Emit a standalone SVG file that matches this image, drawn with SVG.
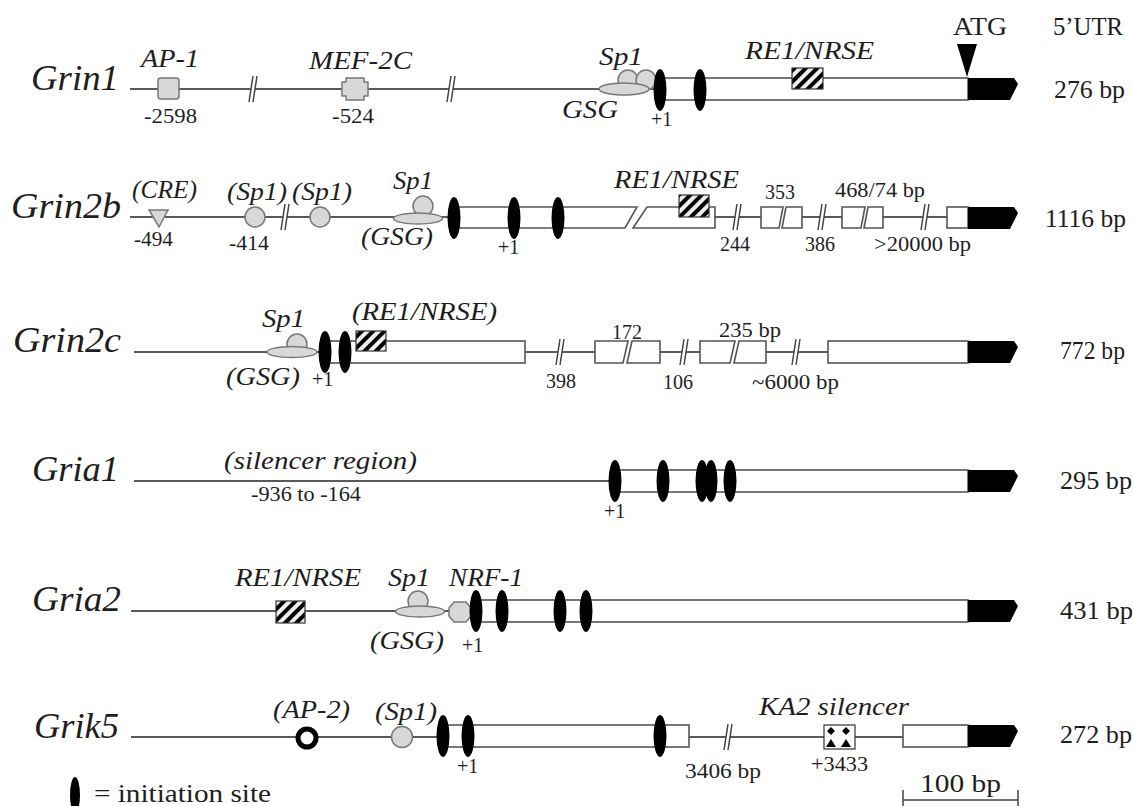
<svg xmlns="http://www.w3.org/2000/svg" xmlns:xlink="http://www.w3.org/1999/xlink" width="1133" height="806" viewBox="0 0 1133 806">
<style>
text{font-family:"Liberation Serif","Times New Roman",serif;fill:#1e1e1e}
.gene{font-size:36px;font-style:italic}
.lab{font-size:26px;font-style:italic}
.num{font-size:20px}
.bp{font-size:25px}
.intron{stroke:#5a5a5a;stroke-width:2;fill:none}
.exon{fill:#fff;stroke:#555;stroke-width:1.6}
.init{fill:#000}
.tf{fill:#d8d8d8;stroke:#777;stroke-width:1.5}
.hatch{fill:url(#hatch);stroke:#333;stroke-width:1.2}
.cds{fill:#000}
</style>
<defs>
<pattern id="hatch" width="8" height="8" patternUnits="userSpaceOnUse" patternTransform="rotate(45)">
<rect width="8" height="8" fill="#eee"/>
<rect width="4" height="8" fill="#000"/>
</pattern>
<g id="brk">
<polygon points="-4,13 0,-13 4,-13 0,13" fill="#fff"/>
<line x1="-4" y1="13" x2="0" y2="-13" stroke="#444" stroke-width="1.5"/>
<line x1="0" y1="13" x2="4" y2="-13" stroke="#444" stroke-width="1.5"/>
</g>
<path id="cdsEnd" d="M0,0 H46 L50,6 L42,22 H0 Z"/>
</defs>

<g id="header">
<text class="bp" x="953" y="35" textLength="54" lengthAdjust="spacingAndGlyphs">ATG</text>
<text class="bp" x="1053" y="35" textLength="70" lengthAdjust="spacingAndGlyphs">5’UTR</text>
</g>

<g id="grin1">
<text class="gene" x="31" y="90" textLength="88" lengthAdjust="spacingAndGlyphs">Grin1</text>
<g class="connectors">
<path class="intron" d="M130,89 H660"/>
<use xlink:href="#brk" x="253" y="89"/>
<use xlink:href="#brk" x="451" y="89"/>
</g>
<rect class="tf" x="158" y="78" width="21" height="21" rx="3"/>
<text class="lab" x="141" y="67" textLength="58" lengthAdjust="spacingAndGlyphs">AP-1</text>
<text class="num" x="144" y="123" textLength="53" lengthAdjust="spacingAndGlyphs">-2598</text>
<path class="tf" d="M346,78 h18 v4 h4 v14 h-4 v4 h-18 v-4 h-4 v-14 h4 z" stroke-linejoin="round"/>
<text class="lab" x="309" y="69" textLength="103" lengthAdjust="spacingAndGlyphs">MEF-2C</text>
<text class="num" x="332" y="123" textLength="42" lengthAdjust="spacingAndGlyphs">-524</text>
<circle class="tf" cx="628" cy="80" r="10"/>
<circle class="tf" cx="646" cy="80" r="10"/>
<ellipse class="tf" cx="624" cy="89" rx="25" ry="6"/>
<text class="lab" x="599" y="65" textLength="44" lengthAdjust="spacingAndGlyphs">Sp1</text>
<text class="lab" x="562" y="118" textLength="56" lengthAdjust="spacingAndGlyphs">GSG</text>
<rect class="exon" x="660" y="78" width="308" height="22"/>
<rect class="hatch" x="792" y="68" width="31" height="21"/>
<text class="lab" x="745" y="59" textLength="129" lengthAdjust="spacingAndGlyphs">RE1/NRSE</text>
<ellipse class="init" cx="660" cy="90" rx="6.5" ry="21"/>
<ellipse class="init" cx="700" cy="90" rx="6.5" ry="21"/>
<text class="num" x="651" y="126">+1</text>
<polygon points="957,44 977,44 967,77" fill="#000"/>
<use xlink:href="#cdsEnd" x="968" y="78" class="cds"/>
<text class="bp" x="1054" y="98" textLength="71" lengthAdjust="spacingAndGlyphs">276 bp</text>
</g>

<g id="grin2b">
<text class="gene" x="11" y="218" textLength="110" lengthAdjust="spacingAndGlyphs">Grin2b</text>
<g class="connectors">
<path class="intron" d="M130,217 H454 M715,217 H761 M802,217 H842 M883,217 H947"/>
<use xlink:href="#brk" x="285" y="217"/>
<use xlink:href="#brk" x="737" y="217"/>
<use xlink:href="#brk" x="822" y="217"/>
<use xlink:href="#brk" x="925" y="217"/>
</g>
<polygon class="tf" points="149,210 168,210 159,227"/>
<text class="lab" x="132" y="198" textLength="65" lengthAdjust="spacingAndGlyphs">(CRE)</text>
<text class="num" x="134" y="246" textLength="39" lengthAdjust="spacingAndGlyphs">-494</text>
<circle class="tf" cx="255" cy="217" r="10"/>
<text class="lab" x="227" y="200" textLength="60" lengthAdjust="spacingAndGlyphs">(Sp1)</text>
<text class="num" x="229" y="250" textLength="40" lengthAdjust="spacingAndGlyphs">-414</text>
<circle class="tf" cx="320" cy="217" r="10"/>
<text class="lab" x="292" y="200" textLength="60" lengthAdjust="spacingAndGlyphs">(Sp1)</text>
<circle class="tf" cx="423" cy="206" r="10"/>
<ellipse class="tf" cx="418" cy="218.5" rx="24.5" ry="5.5"/>
<text class="lab" x="393" y="189" textLength="40" lengthAdjust="spacingAndGlyphs">Sp1</text>
<text class="lab" x="361" y="245" textLength="72" lengthAdjust="spacingAndGlyphs">(GSG)</text>
<polygon class="exon" points="454,207 637,207 625,228 454,228"/>
<polygon class="exon" points="647,207 715,207 715,228 633,228"/>
<rect class="hatch" x="679" y="195" width="30" height="22"/>
<text class="lab" x="614" y="188" textLength="125" lengthAdjust="spacingAndGlyphs">RE1/NRSE</text>
<ellipse class="init" cx="454" cy="218" rx="6.5" ry="21"/>
<ellipse class="init" cx="514" cy="218" rx="6.5" ry="21"/>
<ellipse class="init" cx="558" cy="218" rx="6.5" ry="21"/>
<text class="num" x="498" y="254">+1</text>
<polygon class="exon" points="761,207 783,207 779,228 761,228"/>
<polygon class="exon" points="786,207 802,207 802,228 782,228"/>
<polygon class="exon" points="842,207 865,207 861,228 842,228"/>
<polygon class="exon" points="868,207 883,207 883,228 864,228"/>
<text class="num" x="720" y="251">244</text>
<text class="num" x="765" y="199">353</text>
<text class="num" x="805" y="251">386</text>
<text class="num" x="835" y="197" textLength="90" lengthAdjust="spacingAndGlyphs">468/74 bp</text>
<text class="num" x="874" y="251" textLength="97" lengthAdjust="spacingAndGlyphs">&gt;20000 bp</text>
<rect class="exon" x="947" y="207" width="21" height="21"/>
<use xlink:href="#cdsEnd" x="968" y="207" class="cds"/>
<text class="bp" x="1045" y="227" textLength="81" lengthAdjust="spacingAndGlyphs">1116 bp</text>
</g>

<g id="grin2c">
<text class="gene" x="13" y="352" textLength="108" lengthAdjust="spacingAndGlyphs">Grin2c</text>
<g class="connectors">
<path class="intron" d="M134,352 H325 M525,352 H595 M660,352 H700 M766,352 H828"/>
<use xlink:href="#brk" x="560" y="352"/>
<use xlink:href="#brk" x="684" y="352"/>
<use xlink:href="#brk" x="796" y="352"/>
</g>
<circle class="tf" cx="297" cy="344" r="10"/>
<ellipse class="tf" cx="292" cy="352" rx="25" ry="5.5"/>
<text class="lab" x="262" y="327" textLength="43" lengthAdjust="spacingAndGlyphs">Sp1</text>
<text class="lab" x="226" y="385" textLength="74" lengthAdjust="spacingAndGlyphs">(GSG)</text>
<text class="num" x="312" y="386">+1</text>
<rect class="exon" x="325" y="341" width="200" height="22"/>
<rect class="hatch" x="356" y="331" width="30" height="20"/>
<text class="lab" x="352" y="320" textLength="145" lengthAdjust="spacingAndGlyphs">(RE1/NRSE)</text>
<ellipse class="init" cx="325" cy="352" rx="6.5" ry="21"/>
<ellipse class="init" cx="345" cy="352" rx="6.5" ry="21"/>
<text class="num" x="546" y="388">398</text>
<polygon class="exon" points="595,341 628,341 623,363 595,363"/>
<polygon class="exon" points="632,341 660,341 660,363 627,363"/>
<text class="num" x="612" y="339">172</text>
<text class="num" x="663" y="389">106</text>
<polygon class="exon" points="700,341 735,341 730,363 700,363"/>
<polygon class="exon" points="739,341 766,341 766,363 734,363"/>
<text class="num" x="719" y="337" textLength="62" lengthAdjust="spacingAndGlyphs">235 bp</text>
<text class="num" x="752" y="389" textLength="87" lengthAdjust="spacingAndGlyphs">~6000 bp</text>
<rect class="exon" x="828" y="341" width="140" height="22"/>
<use xlink:href="#cdsEnd" x="968" y="341" class="cds"/>
<text class="bp" x="1060" y="359" textLength="65" lengthAdjust="spacingAndGlyphs">772 bp</text>
</g>

<g id="gria1">
<text class="gene" x="32" y="481" textLength="87" lengthAdjust="spacingAndGlyphs">Gria1</text>
<g class="connectors">
<path class="intron" d="M134,481 H615"/>
</g>
<text class="lab" x="224" y="469" textLength="193" lengthAdjust="spacingAndGlyphs">(silencer region)</text>
<text class="num" x="251" y="501" textLength="110" lengthAdjust="spacingAndGlyphs">-936 to -164</text>
<rect class="exon" x="615" y="470" width="353" height="22"/>
<ellipse class="init" cx="615" cy="481" rx="6.5" ry="21"/>
<ellipse class="init" cx="663" cy="481" rx="6.5" ry="21"/>
<ellipse class="init" cx="702" cy="481" rx="6.5" ry="21"/>
<ellipse class="init" cx="711" cy="481" rx="6.5" ry="21"/>
<ellipse class="init" cx="730" cy="481" rx="6.5" ry="21"/>
<text class="num" x="604" y="518">+1</text>
<use xlink:href="#cdsEnd" x="968" y="470" class="cds"/>
<text class="bp" x="1060" y="489" textLength="72" lengthAdjust="spacingAndGlyphs">295 bp</text>
</g>

<g id="gria2">
<text class="gene" x="32" y="611" textLength="89" lengthAdjust="spacingAndGlyphs">Gria2</text>
<g class="connectors">
<path class="intron" d="M131,611 H476"/>
</g>
<rect class="hatch" x="276" y="601" width="29" height="22"/>
<text class="lab" x="235" y="586" textLength="126" lengthAdjust="spacingAndGlyphs">RE1/NRSE</text>
<circle class="tf" cx="418" cy="601" r="10"/>
<ellipse class="tf" cx="420" cy="611.5" rx="24.5" ry="5.5"/>
<text class="lab" x="388" y="586" textLength="42" lengthAdjust="spacingAndGlyphs">Sp1</text>
<text class="lab" x="370" y="649" textLength="74" lengthAdjust="spacingAndGlyphs">(GSG)</text>
<polygon class="tf" points="454,602 466,602 471,608 471,616 466,622 454,622 449,616 449,608"/>
<text class="lab" x="449" y="586" textLength="74" lengthAdjust="spacingAndGlyphs">NRF-1</text>
<rect class="exon" x="476" y="600" width="492" height="22"/>
<ellipse class="init" cx="476" cy="611" rx="6.5" ry="21"/>
<ellipse class="init" cx="502" cy="611" rx="6.5" ry="21"/>
<ellipse class="init" cx="560" cy="611" rx="6.5" ry="21"/>
<ellipse class="init" cx="586" cy="611" rx="6.5" ry="21"/>
<text class="num" x="462" y="652">+1</text>
<use xlink:href="#cdsEnd" x="968" y="600" class="cds"/>
<text class="bp" x="1060" y="619" textLength="73" lengthAdjust="spacingAndGlyphs">431 bp</text>
</g>

<g id="grik5">
<text class="gene" x="34" y="738" textLength="85" lengthAdjust="spacingAndGlyphs">Grik5</text>
<g class="connectors">
<path class="intron" d="M131,737 H443 M689,737 H903"/>
<use xlink:href="#brk" x="728" y="737"/>
</g>
<circle cx="307" cy="738" r="9" fill="#fff" stroke="#000" stroke-width="5"/>
<text class="lab" x="273" y="718" textLength="77" lengthAdjust="spacingAndGlyphs">(AP-2)</text>
<circle class="tf" cx="402" cy="737" r="10.5"/>
<text class="lab" x="375" y="720" textLength="62" lengthAdjust="spacingAndGlyphs">(Sp1)</text>
<rect class="exon" x="443" y="725" width="246" height="22"/>
<ellipse class="init" cx="443" cy="736" rx="6.5" ry="21"/>
<ellipse class="init" cx="468" cy="736" rx="6.5" ry="21"/>
<ellipse class="init" cx="660" cy="736" rx="6.5" ry="21"/>
<text class="num" x="457" y="773">+1</text>
<text class="num" x="685" y="778" textLength="76" lengthAdjust="spacingAndGlyphs">3406 bp</text>
<g id="ka2">
<rect x="824" y="725" width="31" height="24" fill="#fff" stroke="#333" stroke-width="1.2"/>
<polygon points="831,727 835,731 831,735 827,731" fill="#000"/>
<polygon points="846,727 850,731 846,735 842,731" fill="#000"/>
<polygon points="826,747 831,739 836,747" fill="#000"/>
<polygon points="841,747 846,739 851,747" fill="#000"/>
</g>
<text class="lab" x="759" y="715" textLength="150" lengthAdjust="spacingAndGlyphs">KA2 silencer</text>
<text class="num" x="811" y="771" textLength="57" lengthAdjust="spacingAndGlyphs">+3433</text>
<rect class="exon" x="903" y="725" width="65" height="22"/>
<use xlink:href="#cdsEnd" x="968" y="725" class="cds"/>
<text class="bp" x="1060" y="743" textLength="72" lengthAdjust="spacingAndGlyphs">272 bp</text>
</g>

<g id="scalebar">
<text class="bp" x="920" y="792" textLength="81" lengthAdjust="spacingAndGlyphs">100 bp</text>
<path d="M903,800 H1018 M903,790 V810 M1018,790 V810" stroke="#444" stroke-width="1.5" fill="none"/>
</g>

<g id="legend">
<ellipse class="init" cx="75" cy="795" rx="5" ry="18"/>
<text class="bp" x="94" y="802" textLength="177" lengthAdjust="spacingAndGlyphs">= initiation site</text>
</g>
</svg>
